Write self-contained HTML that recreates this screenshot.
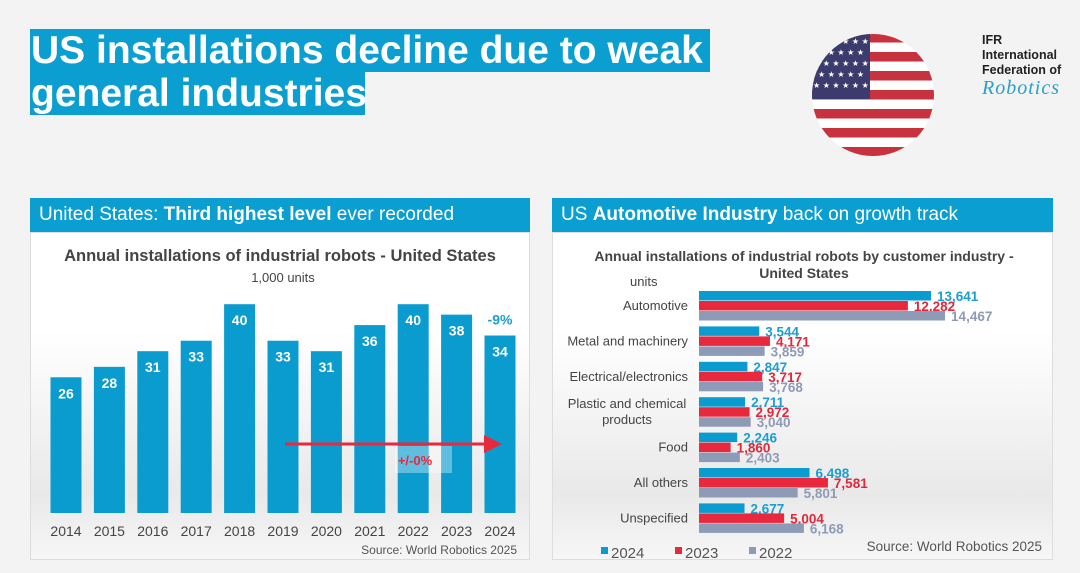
<!DOCTYPE html>
<html><head><meta charset="utf-8"><style>
body{margin:0;width:1080px;height:573px;background:#f3f3f3;font-family:"Liberation Sans",sans-serif;position:relative;overflow:hidden}
.abs{position:absolute}
.tl{background:#0a9fd0;color:#fff;font-weight:bold;font-size:39px;line-height:43px;padding-left:1px;white-space:nowrap}
.hdr{background:#0a9fd0;color:#fff;font-size:19px;line-height:34px;padding-left:9px;box-sizing:border-box}
.panel{background:linear-gradient(#fff 0%,#fff 30%,#e9e9e9 80%,#f6f6f6 100%);border:1px solid #ddd;box-sizing:border-box}
</style></head><body>
<div class="abs tl" style="left:30px;top:29px;width:679px;height:43px">US installations decline due to weak</div>
<div class="abs tl" style="left:30px;top:72px;width:334px;height:43px">general industries</div>
<svg class="abs" style="left:810px;top:33px" width="126" height="126">
<defs><clipPath id="c"><circle cx="63" cy="62" r="61"/></clipPath></defs>
<g clip-path="url(#c)"><rect width="126" height="126" fill="#fff"/>
<g fill="#c8313e"><rect y="0" width="126" height="9.5"/><rect y="19" width="126" height="9.5"/><rect y="38" width="126" height="9.5"/><rect y="57" width="126" height="9.5"/><rect y="76" width="126" height="9.5"/><rect y="95" width="126" height="9.5"/><rect y="114" width="126" height="12"/></g>
<rect width="60" height="66" fill="#3c3b6e"/>
<g fill="#fff" font-size="8" font-family="DejaVu Sans"><text x="3" y="11">★ ★ ★ ★ ★ ★</text><text x="8" y="22">★ ★ ★ ★ ★</text><text x="3" y="33">★ ★ ★ ★ ★ ★</text><text x="8" y="44">★ ★ ★ ★ ★</text><text x="3" y="55">★ ★ ★ ★ ★ ★</text></g></g></svg>
<div class="abs" style="left:982px;top:33px;font-size:12.5px;font-weight:bold;line-height:15px;color:#222">IFR<br>International<br>Federation of<div style="font-family:'Liberation Serif',serif;font-style:italic;font-weight:normal;color:#2aa0c8;font-size:20px;letter-spacing:1px;line-height:20px">Robotics</div></div>

<div class="abs hdr" style="left:30px;top:198px;width:500px;height:34px">United States: <b>Third highest level</b> ever recorded</div>
<div class="abs panel" style="left:30px;top:232px;width:500px;height:328px"></div>
<svg class="abs" id="lc" style="left:0;top:0" width="1080" height="573"></svg>

<div class="abs hdr" style="left:552px;top:198px;width:501px;height:34px">US <b>Automotive Industry</b> back on growth track</div>
<div class="abs panel" style="left:552px;top:232px;width:501px;height:328px"></div>
<svg class="abs" id="rc" style="left:0;top:0" width="1080" height="573"></svg>

<script>
const years=["2014","2015","2016","2017","2018","2019","2020","2021","2022","2023","2024"];
const installs=[26,28,31,33,40,33,31,36,40,38,34];
const industries=["Automotive","Metal and machinery","Electrical/electronics","Plastic and chemical|products","Food","All others","Unspecified"];
const v2024=[13641,3544,2847,2711,2246,6498,2677];
const v2023=[12282,4171,3717,2972,1860,7581,5004];
const v2022=[14467,3859,3768,3040,2403,5801,6168];
const NS="http://www.w3.org/2000/svg";
function mk(p,t,a,txt){const e=document.createElementNS(NS,t);for(const k in a)e.setAttribute(k,a[k]);if(txt!==undefined)e.textContent=txt;p.appendChild(e);return e;}
const L=document.getElementById('lc');
const t1=mk(L,'text',{x:280,y:261,'text-anchor':'middle','font-size':16.5,'font-weight':'bold',fill:'#444'},'Annual installations of industrial robots - United States');

mk(L,'text',{x:283,y:282,'text-anchor':'middle','font-size':13,fill:'#444'},'1,000 units');
const base=513,ppu=5.22,x0=66,step=43.4,bw=31;
const xs=i=>x0+i*step, ys=v=>base-v*ppu;
years.forEach((y,i)=>{
 const r=mk(L,'rect',{x:xs(i)-bw/2,y:ys(installs[i]),width:bw,height:installs[i]*ppu,fill:'#0a9ccf'});
 
 mk(L,'text',{x:xs(i),y:ys(installs[i])+21,'text-anchor':'middle','font-size':14,'font-weight':'bold',fill:'#fff'},String(installs[i]));
 const t=mk(L,'text',{x:xs(i),y:536,'text-anchor':'middle','font-size':14,fill:'#444'},y);
 
});
mk(L,'text',{x:xs(10),y:ys(installs[10])-11,'text-anchor':'middle','font-size':14,'font-weight':'bold',fill:'#1a9fd0'},'-9%');
mk(L,'rect',{x:395,y:446,width:57,height:27,fill:'#fff','fill-opacity':0.35});
const ar=mk(L,'line',{x1:285,y1:444,x2:486,y2:444,stroke:'#e8283c','stroke-width':3});

mk(L,'polygon',{points:'484,435 502,444 484,453',fill:'#e8283c'});
mk(L,'text',{x:415,y:465,'text-anchor':'middle','font-size':13,'font-weight':'bold',fill:'#e8283c'},'+/-0%');
mk(L,'text',{x:517,y:554,'text-anchor':'end','font-size':12,fill:'#555'},'Source: World Robotics 2025');

const R=document.getElementById('rc');
const rt=mk(R,'text',{x:804,y:261,'text-anchor':'middle','font-size':14,'font-weight':'bold',fill:'#444'},'Annual installations of industrial robots by customer industry -');

mk(R,'text',{x:804,y:278,'text-anchor':'middle','font-size':14,'font-weight':'bold',fill:'#444'},'United States');
mk(R,'text',{x:630,y:286,'font-size':13,fill:'#444'},'units');
const ax=699,sc=232/13641,g0=291,gs=35.4,bh=9.5;
const bx=v=>v*sc, gy=i=>g0+i*gs;
const ser=[[v2024,'#0a9ccf','#1a9fd0','2024'],[v2023,'#e8283c','#e0283a','2023'],[v2022,'#8e9bb7','#8e9bb7','2022']];
industries.forEach((n,i)=>{
 ser.forEach((s,k)=>{
  const y=gy(i)+k*10;
  const r=mk(R,'rect',{x:ax,y:y,width:bx(s[0][i]),height:bh,fill:s[1]});
  
  mk(R,'text',{x:ax+bx(s[0][i])+6,y:y+10,'font-size':13.5,'font-weight':'bold',fill:s[2]},s[0][i].toLocaleString('en-US'));
 });
 const parts=n.split('|');
 parts.forEach((p,j)=>{
  const t=mk(R,'text',{x:parts.length>1?627:688,y:gy(i)+19-(parts.length-1)*8+j*16,'text-anchor':parts.length>1?'middle':'end','font-size':13,fill:'#444'},p);
  
 });
});
ser.forEach((s,k)=>{
 const lx=601+k*74;
 const r=mk(R,'rect',{x:lx,y:547,width:7,height:7,fill:s[1]});
 
 mk(R,'text',{x:lx+10,y:558,'font-size':15,fill:'#555'},s[3]);
});
mk(R,'text',{x:1042,y:551,'text-anchor':'end','font-size':13.5,fill:'#555'},'Source: World Robotics 2025');
</script>
</body></html>
